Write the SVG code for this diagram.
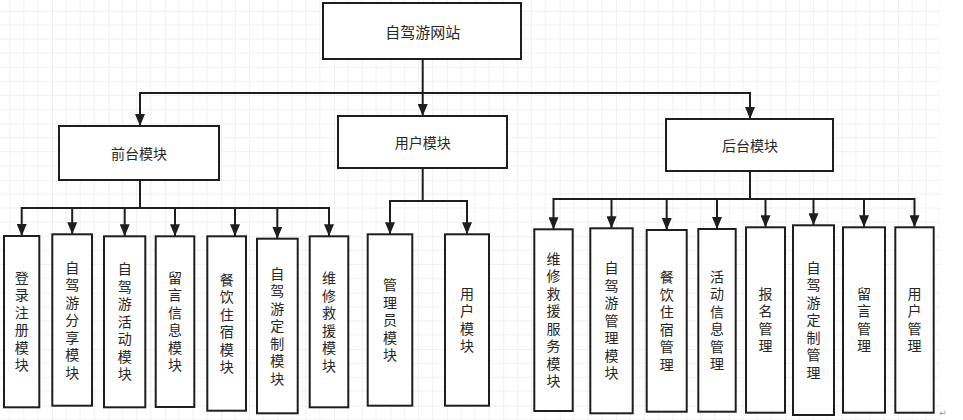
<svg xmlns="http://www.w3.org/2000/svg" width="963" height="420" viewBox="0 0 963 420">
<style>
.box{fill:#fff;stroke:#1e1e1e;stroke-width:2}
.lbl{font-family:"Liberation Sans","Noto Sans CJK SC",sans-serif;font-size:14px;fill:#262626;text-anchor:middle;dominant-baseline:central}
.ttl{font-size:15px}
.con{fill:none;stroke:#1e1e1e;stroke-width:2}
</style>
<defs>
<pattern id="grid" patternUnits="userSpaceOnUse" x="52" y="10.7" width="56.4" height="56.4">
<path d="M14.1,0V56.4M28.2,0V56.4M42.3,0V56.4M0,14.1H56.4M0,28.2H56.4M0,42.3H56.4" stroke="#f1f1f1" stroke-width="1" fill="none"/>
<path d="M0,0V56.4M0,0H56.4" stroke="#e2e2e2" stroke-width="1" fill="none"/>
</pattern>
<marker id="arr" markerUnits="userSpaceOnUse" markerWidth="12" markerHeight="10" refX="12" refY="5" orient="auto">
<path d="M0,0L12,5L0,10z" fill="#1e1e1e"/>
</marker>
</defs>
<rect x="0" y="0" width="963" height="420" fill="#fff"/>
<rect x="0" y="0" width="940" height="420" fill="url(#grid)"/>

<g id="connectors">
<path class="con" d="M422.7,59V116" marker-end="url(#arr)"/>
<path class="con" d="M422.7,93H140V126" marker-end="url(#arr)"/>
<path class="con" d="M422.7,93H750V119" marker-end="url(#arr)"/>

<path class="con" d="M140,180V208H21.7V236" marker-end="url(#arr)"/>
<path class="con" d="M140,208H72.2V234.3" marker-end="url(#arr)"/>
<path class="con" d="M140,208H124.7V236.3" marker-end="url(#arr)"/>
<path class="con" d="M140,208H175V236.3" marker-end="url(#arr)"/>
<path class="con" d="M140,208H235V236.3" marker-end="url(#arr)"/>
<path class="con" d="M140,208H277.3V238.7" marker-end="url(#arr)"/>
<path class="con" d="M140,208H329V236.3" marker-end="url(#arr)"/>

<path class="con" d="M422.7,168V201H390V234.3" marker-end="url(#arr)"/>
<path class="con" d="M422.7,201H467V234.3" marker-end="url(#arr)"/>

<path class="con" d="M750,171V199H553.5V229.3" marker-end="url(#arr)"/>
<path class="con" d="M750,199H611.5V228.3" marker-end="url(#arr)"/>
<path class="con" d="M750,199H666.7V230" marker-end="url(#arr)"/>
<path class="con" d="M750,199H717V229" marker-end="url(#arr)"/>
<path class="con" d="M750,199H765.5V227.3" marker-end="url(#arr)"/>
<path class="con" d="M750,199H813.5V225.3" marker-end="url(#arr)"/>
<path class="con" d="M750,199H864V227.3" marker-end="url(#arr)"/>
<path class="con" d="M750,199H914.5V227.3" marker-end="url(#arr)"/>
</g>

<g id="root"><rect class="box" x="323" y="3" width="198" height="56"/><text class="lbl ttl" x="422.7" y="32">自驾游网站</text></g>
<g id="front"><rect class="box" x="59" y="126" width="160" height="54"/><text class="lbl" x="139" y="154">前台模块</text></g>
<g id="user"><rect class="box" x="338" y="116" width="169" height="52"/><text class="lbl" x="422.7" y="142.5">用户模块</text></g>
<g id="back"><rect class="box" x="666" y="119" width="167" height="52"/><text class="lbl" x="750" y="145.5">后台模块</text></g>

<g id="f1"><rect class="box" x="4" y="236" width="35.3" height="171.3"/><text class="lbl" x="21.7" y="277.9"><tspan x="21.7">登</tspan><tspan x="21.7" dy="17.5">录</tspan><tspan x="21.7" dy="17.5">注</tspan><tspan x="21.7" dy="17.5">册</tspan><tspan x="21.7" dy="17.5">模</tspan><tspan x="21.7" dy="17.5">块</tspan></text></g>
<g id="f2"><rect class="box" x="52.3" y="234.3" width="39.7" height="171.4"/><text class="lbl" x="72.2" y="267.5"><tspan x="72.2">自</tspan><tspan x="72.2" dy="17.5">驾</tspan><tspan x="72.2" dy="17.5">游</tspan><tspan x="72.2" dy="17.5">分</tspan><tspan x="72.2" dy="17.5">享</tspan><tspan x="72.2" dy="17.5">模</tspan><tspan x="72.2" dy="17.5">块</tspan></text></g>
<g id="f3"><rect class="box" x="104" y="236.3" width="41.3" height="171"/><text class="lbl" x="124.7" y="269.3"><tspan x="124.7">自</tspan><tspan x="124.7" dy="17.5">驾</tspan><tspan x="124.7" dy="17.5">游</tspan><tspan x="124.7" dy="17.5">活</tspan><tspan x="124.7" dy="17.5">动</tspan><tspan x="124.7" dy="17.5">模</tspan><tspan x="124.7" dy="17.5">块</tspan></text></g>
<g id="f4"><rect class="box" x="155.7" y="236.3" width="38.6" height="170.7"/><text class="lbl" x="175" y="277.9"><tspan x="175">留</tspan><tspan x="175" dy="17.5">言</tspan><tspan x="175" dy="17.5">信</tspan><tspan x="175" dy="17.5">息</tspan><tspan x="175" dy="17.5">模</tspan><tspan x="175" dy="17.5">块</tspan></text></g>
<g id="f5"><rect class="box" x="207.3" y="236.3" width="38.7" height="174.4"/><text class="lbl" x="226.7" y="279.7"><tspan x="226.7">餐</tspan><tspan x="226.7" dy="17.5">饮</tspan><tspan x="226.7" dy="17.5">住</tspan><tspan x="226.7" dy="17.5">宿</tspan><tspan x="226.7" dy="17.5">模</tspan><tspan x="226.7" dy="17.5">块</tspan></text></g>
<g id="f6"><rect class="box" x="257" y="238.7" width="40.7" height="174.6"/><text class="lbl" x="277.3" y="273.5"><tspan x="277.3">自</tspan><tspan x="277.3" dy="17.5">驾</tspan><tspan x="277.3" dy="17.5">游</tspan><tspan x="277.3" dy="17.5">定</tspan><tspan x="277.3" dy="17.5">制</tspan><tspan x="277.3" dy="17.5">模</tspan><tspan x="277.3" dy="17.5">块</tspan></text></g>
<g id="f7"><rect class="box" x="309.7" y="236.3" width="38.6" height="171"/><text class="lbl" x="329" y="278"><tspan x="329">维</tspan><tspan x="329" dy="17.5">修</tspan><tspan x="329" dy="17.5">救</tspan><tspan x="329" dy="17.5">援</tspan><tspan x="329" dy="17.5">模</tspan><tspan x="329" dy="17.5">块</tspan></text></g>

<g id="u1"><rect class="box" x="367.7" y="234.3" width="44.6" height="171.4"/><text class="lbl" x="390" y="285"><tspan x="390">管</tspan><tspan x="390" dy="17.5">理</tspan><tspan x="390" dy="17.5">员</tspan><tspan x="390" dy="17.5">模</tspan><tspan x="390" dy="17.5">块</tspan></text></g>
<g id="u2"><rect class="box" x="445" y="234.3" width="44" height="171.4"/><text class="lbl" x="467" y="293.75"><tspan x="467">用</tspan><tspan x="467" dy="17.5">户</tspan><tspan x="467" dy="17.5">模</tspan><tspan x="467" dy="17.5">块</tspan></text></g>

<g id="b1"><rect class="box" x="534.3" y="229.3" width="38.4" height="181.7"/><text class="lbl" x="553.5" y="258.9"><tspan x="553.5">维</tspan><tspan x="553.5" dy="17.5">修</tspan><tspan x="553.5" dy="17.5">救</tspan><tspan x="553.5" dy="17.5">援</tspan><tspan x="553.5" dy="17.5">服</tspan><tspan x="553.5" dy="17.5">务</tspan><tspan x="553.5" dy="17.5">模</tspan><tspan x="553.5" dy="17.5">块</tspan></text></g>
<g id="b2"><rect class="box" x="590.3" y="228.3" width="42.4" height="185"/><text class="lbl" x="611.5" y="268.3"><tspan x="611.5">自</tspan><tspan x="611.5" dy="17.5">驾</tspan><tspan x="611.5" dy="17.5">游</tspan><tspan x="611.5" dy="17.5">管</tspan><tspan x="611.5" dy="17.5">理</tspan><tspan x="611.5" dy="17.5">模</tspan><tspan x="611.5" dy="17.5">块</tspan></text></g>
<g id="b3"><rect class="box" x="646.7" y="230" width="40" height="181.7"/><text class="lbl" x="666.7" y="277"><tspan x="666.7">餐</tspan><tspan x="666.7" dy="17.5">饮</tspan><tspan x="666.7" dy="17.5">住</tspan><tspan x="666.7" dy="17.5">宿</tspan><tspan x="666.7" dy="17.5">管</tspan><tspan x="666.7" dy="17.5">理</tspan></text></g>
<g id="b4"><rect class="box" x="698.3" y="229" width="37.4" height="182.7"/><text class="lbl" x="717" y="276.5"><tspan x="717">活</tspan><tspan x="717" dy="17.5">动</tspan><tspan x="717" dy="17.5">信</tspan><tspan x="717" dy="17.5">息</tspan><tspan x="717" dy="17.5">管</tspan><tspan x="717" dy="17.5">理</tspan></text></g>
<g id="b5"><rect class="box" x="746" y="227.3" width="39" height="185.4"/><text class="lbl" x="765.5" y="293.75"><tspan x="765.5">报</tspan><tspan x="765.5" dy="17.5">名</tspan><tspan x="765.5" dy="17.5">管</tspan><tspan x="765.5" dy="17.5">理</tspan></text></g>
<g id="b6"><rect class="box" x="793" y="225.3" width="41" height="189.7"/><text class="lbl" x="813.5" y="267.7"><tspan x="813.5">自</tspan><tspan x="813.5" dy="17.5">驾</tspan><tspan x="813.5" dy="17.5">游</tspan><tspan x="813.5" dy="17.5">定</tspan><tspan x="813.5" dy="17.5">制</tspan><tspan x="813.5" dy="17.5">管</tspan><tspan x="813.5" dy="17.5">理</tspan></text></g>
<g id="b7"><rect class="box" x="843" y="227.3" width="42" height="185.4"/><text class="lbl" x="864" y="293.75"><tspan x="864">留</tspan><tspan x="864" dy="17.5">言</tspan><tspan x="864" dy="17.5">管</tspan><tspan x="864" dy="17.5">理</tspan></text></g>
<g id="b8"><rect class="box" x="895.3" y="227.3" width="38.4" height="185.4"/><text class="lbl" x="914.5" y="293.75"><tspan x="914.5">用</tspan><tspan x="914.5" dy="17.5">户</tspan><tspan x="914.5" dy="17.5">管</tspan><tspan x="914.5" dy="17.5">理</tspan></text></g>

<text x="943" y="413" font-family="DejaVu Sans,sans-serif" font-size="9" fill="#999" text-anchor="middle" dominant-baseline="central">↵</text>
</svg>
